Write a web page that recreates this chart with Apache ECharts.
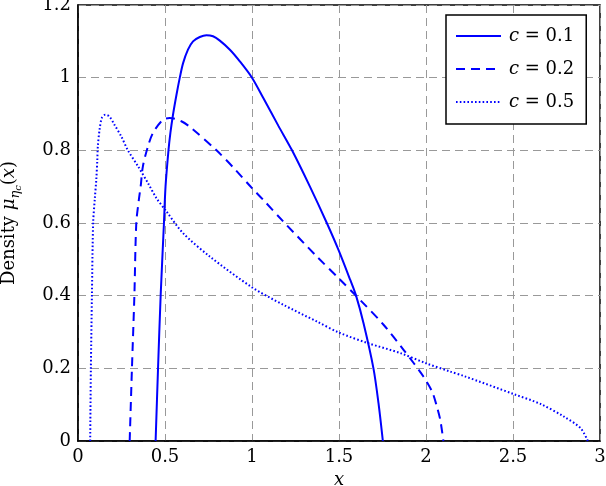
<!DOCTYPE html>
<html>
<head>
<meta charset="utf-8">
<script src="https://cdn.jsdelivr.net/npm/echarts@6/dist/echarts.min.js"></script>
<style>
  html, body { margin: 0; padding: 0; background: #fff; }
  #chart { width: 606px; height: 486px; }
</style>
</head>
<body>
<div id="chart"></div>
<script>
// 读图得到的数据点
const xTicks = [0, 0.5, 1, 1.5, 2, 2.5, 3]
const yTicks = [0, 0.2, 0.4, 0.6, 0.8, 1, 1.2]

const c1X = [0.446, 0.46, 0.475, 0.494, 0.503, 0.52, 0.531, 0.546, 0.566, 0.585, 0.604, 0.632, 0.661, 0.70, 0.738, 0.776, 0.815, 0.873, 0.93, 1.0, 1.065, 1.151, 1.23, 1.333, 1.43, 1.497, 1.564, 1.598, 1.641, 1.698, 1.727, 1.752]
const c1Y = [0, 0.2, 0.4, 0.6, 0.7, 0.8, 0.848, 0.898, 0.953, 1.0, 1.04, 1.077, 1.10, 1.112, 1.117, 1.114, 1.102, 1.077, 1.045, 1.0, 0.944, 0.868, 0.8, 0.70, 0.6, 0.526, 0.444, 0.4, 0.324, 0.2, 0.104, 0]

const c2X = [0.297, 0.31, 0.324, 0.335, 0.35, 0.36, 0.373, 0.402, 0.431, 0.488, 0.527, 0.594, 0.652, 0.796, 0.9, 1.0, 1.064, 1.18, 1.372, 1.502, 1.622, 1.756, 1.871, 1.93, 1.986, 2.035, 2.063, 2.082, 2.1]
const c2Y = [0, 0.2, 0.4, 0.6, 0.665, 0.7, 0.756, 0.811, 0.848, 0.884, 0.889, 0.88, 0.861, 0.8, 0.749, 0.696, 0.664, 0.604, 0.508, 0.446, 0.388, 0.32, 0.251, 0.214, 0.177, 0.136, 0.094, 0.058, 0]

const c5X = [0.07, 0.074, 0.08, 0.087, 0.097, 0.105, 0.111, 0.114, 0.124, 0.137, 0.157, 0.181, 0.21, 0.249, 0.287, 0.345, 0.402, 0.45, 0.508, 0.604, 0.757, 1.0, 1.18, 1.372, 1.502, 1.669, 1.852, 2.0, 2.14, 2.217, 2.505, 2.658, 2.793, 2.889, 2.93]
const c5Y = [0, 0.2, 0.4, 0.6, 0.669, 0.719, 0.774, 0.811, 0.857, 0.889, 0.898, 0.893, 0.87, 0.838, 0.8, 0.756, 0.71, 0.669, 0.632, 0.572, 0.508, 0.423, 0.375, 0.329, 0.298, 0.269, 0.242, 0.214, 0.191, 0.179, 0.129, 0.102, 0.067, 0.035, 0]

const seriesNames = ['c01', 'c02', 'c05']
const legendLabels = ['0.1', '0.2', '0.5']

const zip = (xs, ys) => xs.map((x, i) => [x, ys[i]])

const serif = 'DejaVu Serif'
const blue = '#0000ff'

const myChart = echarts.init(document.getElementById('chart'))

myChart.setOption({
  animation: false,
  grid: {
    left: 78,
    right: 6,
    top: 5,
    bottom: 45,
    outerBoundsMode: 'none',
    containLabel: false,
    show: true,
    borderColor: '#000',
    borderWidth: 1.5,
    backgroundColor: 'transparent'
  },
  legend: {
    data: seriesNames,
    orient: 'vertical',
    left: 446,
    top: 15,
    itemWidth: 45,
    itemHeight: 14,
    itemGap: 15,
    padding: [12, 12, 13, 9],
    backgroundColor: '#fff',
    borderColor: '#000',
    borderWidth: 1.5,
    borderRadius: 0,
    // 图例只画线，不画圆点
    itemStyle: { color: 'rgba(0,0,0,0)', borderWidth: 0, opacity: 0 },
    formatter: function(name) {
      const i = seriesNames.indexOf(name)
      return '{it|c} {n|= ' + legendLabels[i] + '}'
    },
    textStyle: {
      fontFamily: serif,
      fontSize: 18,
      color: '#000',
      padding: [0, 0, 0, 3],
      rich: {
        it: { fontFamily: serif, fontStyle: 'italic', fontSize: 18, color: '#000' },
        n: { fontFamily: serif, fontSize: 18, color: '#000' }
      }
    }
  },
  xAxis: {
    type: 'value',
    min: 0,
    max: 3,
    interval: 0.5,
    name: 'x',
    nameLocation: 'middle',
    nameGap: 25,
    nameTextStyle: {
      fontFamily: serif,
      fontStyle: 'italic',
      fontSize: 18,
      color: '#000'
    },
    axisLine: { show: true, lineStyle: { color: '#000', width: 1.5 } },
    axisTick: { show: false },
    axisLabel: {
      margin: 7,
      fontFamily: serif,
      fontSize: 18,
      color: '#000',
      formatter: function(v) { return String(v) }
    },
    splitLine: {
      show: true,
      lineStyle: { color: '#999', type: [8, 5], width: 1 }
    }
  },
  yAxis: {
    type: 'value',
    min: 0,
    max: 1.2,
    interval: 0.2,
    name: '{t|Density }{it|μ}{sub|η}{subsub|c}{t|(}{it|x}{t|)}',
    nameLocation: 'middle',
    nameRotate: 90,
    nameGap: 55,
    nameTextStyle: {
      fontFamily: serif,
      fontSize: 18,
      color: '#000',
      rich: {
        t: { fontFamily: serif, fontSize: 18, color: '#000', lineHeight: 28, verticalAlign: 'middle' },
        it: { fontFamily: serif, fontStyle: 'italic', fontSize: 18, color: '#000', lineHeight: 28, verticalAlign: 'middle' },
        sub: { fontFamily: serif, fontStyle: 'italic', fontSize: 13, color: '#000', lineHeight: 28, verticalAlign: 'bottom', padding: [0, 0, 1, 0] },
        subsub: { fontFamily: serif, fontStyle: 'italic', fontSize: 10, color: '#000', lineHeight: 28, verticalAlign: 'bottom' }
      }
    },
    axisLine: { show: true, lineStyle: { color: '#000', width: 1.5 } },
    axisTick: { show: false },
    axisLabel: {
      margin: 7,
      fontFamily: serif,
      fontSize: 18,
      color: '#000',
      formatter: function(v) { return String(Math.round(v * 10) / 10) }
    },
    splitLine: {
      show: true,
      lineStyle: { color: '#999', type: [8, 5], width: 1 }
    }
  },
  series: [
    {
      name: seriesNames[0],
      type: 'line',
      data: zip(c1X, c1Y),
      smooth: 0.3,
      showSymbol: false,
      symbol: 'none',
      lineStyle: { color: blue, width: 2, type: 'solid' },
      itemStyle: { color: blue }
    },
    {
      name: seriesNames[1],
      type: 'line',
      data: zip(c2X, c2Y),
      smooth: 0.3,
      showSymbol: false,
      symbol: 'none',
      lineStyle: { color: blue, width: 2, type: [9, 6] },
      itemStyle: { color: blue }
    },
    {
      name: seriesNames[2],
      type: 'line',
      data: zip(c5X, c5Y),
      smooth: 0.3,
      showSymbol: false,
      symbol: 'none',
      lineStyle: { color: blue, width: 2, type: [1.6, 2.2] },
      itemStyle: { color: blue }
    }
  ]
})
</script>
</body>
</html>
